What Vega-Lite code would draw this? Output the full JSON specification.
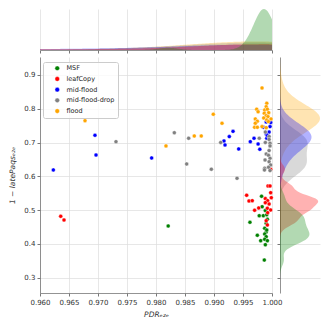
{
  "$schema": "https://vega.github.io/schema/vega-lite/v6.json",
  "padding": {"left": 8, "top": 9, "right": 5, "bottom": 5},
  "config": {
    "view": {"stroke": null},
    "font": "DejaVu Sans",
    "axis": {
      "labelFont": "DejaVu Sans", "labelFontSize": 7, "labelColor": "#333333", "labelOverlap": false, "labelFlush": false,
      "titleFont": "DejaVu Sans", "titleFontSize": 7.5, "titleFontWeight": "normal", "titleColor": "#333333",
      "domainColor": "#777777", "domainWidth": 0.8, "tickColor": "#555555", "tickSize": 3, "tickWidth": 0.8,
      "gridColor": "#dddddd", "gridWidth": 0.7, "labelPadding": 2
    }
  },
  "datasets": {
    "pts": [
      {"x": 0.9821, "y": 0.453, "g": "MSF"},
      {"x": 0.9962, "y": 0.464, "g": "MSF"},
      {"x": 0.9982, "y": 0.541, "g": "MSF"},
      {"x": 0.9983, "y": 0.510, "g": "MSF"},
      {"x": 0.9978, "y": 0.4835, "g": "MSF"},
      {"x": 0.9985, "y": 0.4835, "g": "MSF"},
      {"x": 0.99885, "y": 0.4985, "g": "MSF"},
      {"x": 0.9991, "y": 0.4865, "g": "MSF"},
      {"x": 0.9990, "y": 0.461, "g": "MSF"},
      {"x": 0.99874, "y": 0.446, "g": "MSF"},
      {"x": 0.9990, "y": 0.435, "g": "MSF"},
      {"x": 0.99874, "y": 0.429, "g": "MSF"},
      {"x": 0.9990, "y": 0.4215, "g": "MSF"},
      {"x": 0.99747, "y": 0.4255, "g": "MSF"},
      {"x": 0.99805, "y": 0.4095, "g": "MSF"},
      {"x": 0.99874, "y": 0.4136, "g": "MSF"},
      {"x": 0.9992, "y": 0.4095, "g": "MSF"},
      {"x": 0.99885, "y": 0.3976, "g": "MSF"},
      {"x": 0.99867, "y": 0.352, "g": "MSF"},
      {"x": 0.9991, "y": 0.441, "g": "MSF"},
      {"x": 0.9992, "y": 0.473, "g": "MSF"},
      {"x": 0.96357, "y": 0.4817, "g": "leafCopy"},
      {"x": 0.96414, "y": 0.4707, "g": "leafCopy"},
      {"x": 0.99563, "y": 0.5439, "g": "leafCopy"},
      {"x": 0.99603, "y": 0.527, "g": "leafCopy"},
      {"x": 0.9966, "y": 0.528, "g": "leafCopy"},
      {"x": 0.9970, "y": 0.4995, "g": "leafCopy"},
      {"x": 0.99771, "y": 0.5063, "g": "leafCopy"},
      {"x": 0.99931, "y": 0.5714, "g": "leafCopy"},
      {"x": 0.99966, "y": 0.5714, "g": "leafCopy"},
      {"x": 0.99977, "y": 0.5516, "g": "leafCopy"},
      {"x": 0.99988, "y": 0.5368, "g": "leafCopy"},
      {"x": 0.99885, "y": 0.534, "g": "leafCopy"},
      {"x": 0.99925, "y": 0.528, "g": "leafCopy"},
      {"x": 0.99885, "y": 0.522, "g": "leafCopy"},
      {"x": 0.9995, "y": 0.518, "g": "leafCopy"},
      {"x": 0.9992, "y": 0.5054, "g": "leafCopy"},
      {"x": 0.99977, "y": 0.5004, "g": "leafCopy"},
      {"x": 0.99925, "y": 0.4924, "g": "leafCopy"},
      {"x": 0.9990, "y": 0.4687, "g": "leafCopy"},
      {"x": 0.9992, "y": 0.456, "g": "leafCopy"},
      {"x": 0.99977, "y": 0.621, "g": "leafCopy"},
      {"x": 0.9623, "y": 0.619, "g": "mid-flood"},
      {"x": 0.96948, "y": 0.7215, "g": "mid-flood"},
      {"x": 0.96966, "y": 0.663, "g": "mid-flood"},
      {"x": 0.97925, "y": 0.6543, "g": "mid-flood"},
      {"x": 0.99172, "y": 0.7046, "g": "mid-flood"},
      {"x": 0.9919, "y": 0.6928, "g": "mid-flood"},
      {"x": 0.99264, "y": 0.7174, "g": "mid-flood"},
      {"x": 0.99328, "y": 0.733, "g": "mid-flood"},
      {"x": 0.99426, "y": 0.681, "g": "mid-flood"},
      {"x": 0.99626, "y": 0.7026, "g": "mid-flood"},
      {"x": 0.9969, "y": 0.7126, "g": "mid-flood"},
      {"x": 0.9976, "y": 0.6957, "g": "mid-flood"},
      {"x": 0.9979, "y": 0.680, "g": "mid-flood"},
      {"x": 0.9991, "y": 0.7126, "g": "mid-flood"},
      {"x": 0.9995, "y": 0.731, "g": "mid-flood"},
      {"x": 0.9990, "y": 0.7254, "g": "mid-flood"},
      {"x": 0.99966, "y": 0.747, "g": "mid-flood"},
      {"x": 0.99977, "y": 0.759, "g": "mid-flood"},
      {"x": 0.9990, "y": 0.761, "g": "mid-flood"},
      {"x": 0.9985, "y": 0.745, "g": "mid-flood"},
      {"x": 0.9992, "y": 0.7204, "g": "mid-flood"},
      {"x": 0.9731, "y": 0.7026, "g": "mid-flood-drop"},
      {"x": 0.98316, "y": 0.729, "g": "mid-flood-drop"},
      {"x": 0.98529, "y": 0.6365, "g": "mid-flood-drop"},
      {"x": 0.98563, "y": 0.7126, "g": "mid-flood-drop"},
      {"x": 0.98954, "y": 0.621, "g": "mid-flood-drop"},
      {"x": 0.99115, "y": 0.700, "g": "mid-flood-drop"},
      {"x": 0.99397, "y": 0.594, "g": "mid-flood-drop"},
      {"x": 0.99885, "y": 0.731, "g": "mid-flood-drop"},
      {"x": 0.9995, "y": 0.7175, "g": "mid-flood-drop"},
      {"x": 0.9978, "y": 0.7126, "g": "mid-flood-drop"},
      {"x": 0.9995, "y": 0.709, "g": "mid-flood-drop"},
      {"x": 0.99966, "y": 0.698, "g": "mid-flood-drop"},
      {"x": 0.99885, "y": 0.700, "g": "mid-flood-drop"},
      {"x": 0.99966, "y": 0.690, "g": "mid-flood-drop"},
      {"x": 0.9990, "y": 0.666, "g": "mid-flood-drop"},
      {"x": 0.9995, "y": 0.676, "g": "mid-flood-drop"},
      {"x": 0.9994, "y": 0.662, "g": "mid-flood-drop"},
      {"x": 0.99966, "y": 0.6534, "g": "mid-flood-drop"},
      {"x": 0.9988, "y": 0.6484, "g": "mid-flood-drop"},
      {"x": 0.9995, "y": 0.643, "g": "mid-flood-drop"},
      {"x": 0.99977, "y": 0.6336, "g": "mid-flood-drop"},
      {"x": 0.9994, "y": 0.6267, "g": "mid-flood-drop"},
      {"x": 0.99874, "y": 0.624, "g": "mid-flood-drop"},
      {"x": 0.99966, "y": 0.617, "g": "mid-flood-drop"},
      {"x": 0.9987, "y": 0.619, "g": "mid-flood-drop"},
      {"x": 0.96776, "y": 0.7647, "g": "flood"},
      {"x": 0.98172, "y": 0.690, "g": "flood"},
      {"x": 0.9866, "y": 0.7194, "g": "flood"},
      {"x": 0.9878, "y": 0.7194, "g": "flood"},
      {"x": 0.98988, "y": 0.7836, "g": "flood"},
      {"x": 0.99138, "y": 0.757, "g": "flood"},
      {"x": 0.99828, "y": 0.8615, "g": "flood"},
      {"x": 0.99736, "y": 0.7985, "g": "flood"},
      {"x": 0.9976, "y": 0.791, "g": "flood"},
      {"x": 0.9991, "y": 0.816, "g": "flood"},
      {"x": 0.9990, "y": 0.806, "g": "flood"},
      {"x": 0.99874, "y": 0.796, "g": "flood"},
      {"x": 0.9992, "y": 0.7985, "g": "flood"},
      {"x": 0.99867, "y": 0.7866, "g": "flood"},
      {"x": 0.99943, "y": 0.7884, "g": "flood"},
      {"x": 0.9990, "y": 0.7795, "g": "flood"},
      {"x": 0.9993, "y": 0.7766, "g": "flood"},
      {"x": 0.99857, "y": 0.7727, "g": "flood"},
      {"x": 0.99983, "y": 0.7697, "g": "flood"},
      {"x": 0.9991, "y": 0.7667, "g": "flood"},
      {"x": 0.99937, "y": 0.7618, "g": "flood"},
      {"x": 0.99712, "y": 0.7697, "g": "flood"},
      {"x": 0.99747, "y": 0.763, "g": "flood"},
      {"x": 0.99712, "y": 0.757, "g": "flood"},
      {"x": 0.9970, "y": 0.745, "g": "flood"},
      {"x": 0.99747, "y": 0.745, "g": "flood"},
      {"x": 0.99828, "y": 0.747, "g": "flood"},
      {"x": 0.9990, "y": 0.744, "g": "flood"}
    ]
  },
  "bounds": "flush",
  "spacing": 7,
  "resolve": {"scale": {"x": "independent", "y": "independent"}},
  "vconcat": [
    {
      "width": 232,
      "height": 41,
      "encoding": {
        "x": {"field": "xv", "type": "quantitative", "scale": {"domain": [0.96, 1.0], "nice": false, "zero": false},
              "axis": {"values": [0.96, 0.965, 0.97, 0.975, 0.98, 0.985, 0.99, 0.995, 1.0], "labels": false, "title": null, "grid": true, "ticks": true, "domain": true}},
        "y": {"field": "dens", "type": "quantitative", "axis": null, "scale": {"nice": false, "zero": true}}
      },
      "layer": [
        {"data": {"name": "pts"}, "transform": [{"filter": "datum.g === 'flood'"}, {"density": "x", "bandwidth": 0.011, "extent": [0.96, 1.0], "steps": 200, "counts": true, "as": ["xv", "dens"]}],
         "mark": {"type": "area", "orient": "vertical", "color": "orange", "opacity": 0.3}},
        {"data": {"name": "pts"}, "transform": [{"filter": "datum.g === 'mid-flood-drop'"}, {"density": "x", "bandwidth": 0.011, "extent": [0.96, 1.0], "steps": 200, "counts": true, "as": ["xv", "dens"]}],
         "mark": {"type": "area", "orient": "vertical", "color": "gray", "opacity": 0.3}},
        {"data": {"name": "pts"}, "transform": [{"filter": "datum.g === 'mid-flood'"}, {"density": "x", "bandwidth": 0.012, "extent": [0.96, 1.0], "steps": 200, "counts": true, "as": ["xv", "dens"]}],
         "mark": {"type": "area", "orient": "vertical", "color": "blue", "opacity": 0.3}},
        {"data": {"name": "pts"}, "transform": [{"filter": "datum.g === 'leafCopy'"}, {"density": "x", "bandwidth": 0.012, "extent": [0.96, 1.0], "steps": 200, "counts": true, "as": ["xv", "dens"]}],
         "mark": {"type": "area", "orient": "vertical", "color": "red", "opacity": 0.3}},
        {"data": {"name": "pts"}, "transform": [{"filter": "datum.g === 'MSF'"}, {"density": "x", "bandwidth": 0.0017, "extent": [0.96, 1.0], "steps": 200, "counts": true, "as": ["xv", "dens"]}],
         "mark": {"type": "area", "orient": "vertical", "color": "green", "opacity": 0.3}}
      ]
    },
    {
      "bounds": "flush",
      "spacing": 8,
      "resolve": {"scale": {"x": "independent", "y": "independent"}},
      "hconcat": [
        {
          "width": 232,
          "height": 236,
          "data": {"name": "pts"},
          "mark": {"type": "point", "filled": true, "size": 16, "stroke": "white", "strokeWidth": 0.4, "opacity": 1},
          "encoding": {
            "x": {"field": "x", "type": "quantitative", "scale": {"domain": [0.96, 1.0], "nice": false, "zero": false},
                  "axis": {"values": [0.96, 0.965, 0.97, 0.975, 0.98, 0.985, 0.99, 0.995, 1.0], "format": ".3f", "title": "PDRₑ₂ₑ", "titleFontStyle": "italic", "grid": true, "titlePadding": 5}},
            "y": {"field": "y", "type": "quantitative", "scale": {"domain": [0.2547, 0.953], "nice": false, "zero": false},
                  "axis": {"values": [0.3, 0.4, 0.5, 0.6, 0.7, 0.8, 0.9], "format": ".1f", "title": "1 − latePaqsₑ₂ₑ", "titleFontStyle": "italic", "grid": true, "titlePadding": 7}},
            "color": {"field": "g", "type": "nominal",
                      "scale": {"domain": ["MSF", "leafCopy", "mid-flood", "mid-flood-drop", "flood"], "range": ["green", "red", "blue", "gray", "orange"]},
                      "legend": {"orient": "none", "legendX": 3, "legendY": 53, "title": null, "padding": 3, "symbolOffset": 8, "symbolSize": 22, "symbolType": "circle",
                                 "symbolStrokeColor": "white", "symbolStrokeWidth": 0.4, "symbolOpacity": 1,
                                 "labelFont": "DejaVu Sans", "labelFontSize": 6.5, "labelColor": "#262626", "rowPadding": 3.7, "labelOffset": 6,
                                 "strokeColor": "#cccccc", "fillColor": "rgba(255,255,255,0.8)", "cornerRadius": 2}}
          }
        },
        {
          "width": 40,
          "height": 236,
          "encoding": {
            "y": {"field": "yv", "type": "quantitative", "scale": {"domain": [0.2547, 0.953], "nice": false, "zero": false},
                  "axis": {"values": [0.3, 0.4, 0.5, 0.6, 0.7, 0.8, 0.9], "labels": false, "title": null, "grid": true, "ticks": true, "domain": true}},
            "x": {"field": "dens", "type": "quantitative", "axis": null, "scale": {"nice": false, "zero": true}}
          },
          "layer": [
            {"data": {"name": "pts"}, "transform": [{"filter": "datum.g === 'flood'"}, {"density": "y", "bandwidth": 0.034, "extent": [0.2547, 0.953], "steps": 200, "counts": true, "as": ["yv", "dens"]}],
             "mark": {"type": "area", "orient": "horizontal", "color": "orange", "opacity": 0.3}},
            {"data": {"name": "pts"}, "transform": [{"filter": "datum.g === 'mid-flood-drop'"}, {"density": "y", "bandwidth": 0.028, "extent": [0.2547, 0.953], "steps": 200, "counts": true, "as": ["yv", "dens"]}],
             "mark": {"type": "area", "orient": "horizontal", "color": "gray", "opacity": 0.3}},
            {"data": {"name": "pts"}, "transform": [{"filter": "datum.g === 'mid-flood'"}, {"density": "y", "bandwidth": 0.028, "extent": [0.2547, 0.953], "steps": 200, "counts": true, "as": ["yv", "dens"]}],
             "mark": {"type": "area", "orient": "horizontal", "color": "blue", "opacity": 0.3}},
            {"data": {"name": "pts"}, "transform": [{"filter": "datum.g === 'leafCopy'"}, {"density": "y", "bandwidth": 0.013, "extent": [0.2547, 0.953], "steps": 200, "counts": true, "as": ["yv", "dens"]}],
             "mark": {"type": "area", "orient": "horizontal", "color": "red", "opacity": 0.3}},
            {"data": {"name": "pts"}, "transform": [{"filter": "datum.g === 'MSF'"}, {"density": "y", "bandwidth": 0.017, "extent": [0.2547, 0.953], "steps": 200, "counts": true, "as": ["yv", "dens"]}],
             "mark": {"type": "area", "orient": "horizontal", "color": "green", "opacity": 0.3}}
          ]
        }
      ]
    }
  ]
}
